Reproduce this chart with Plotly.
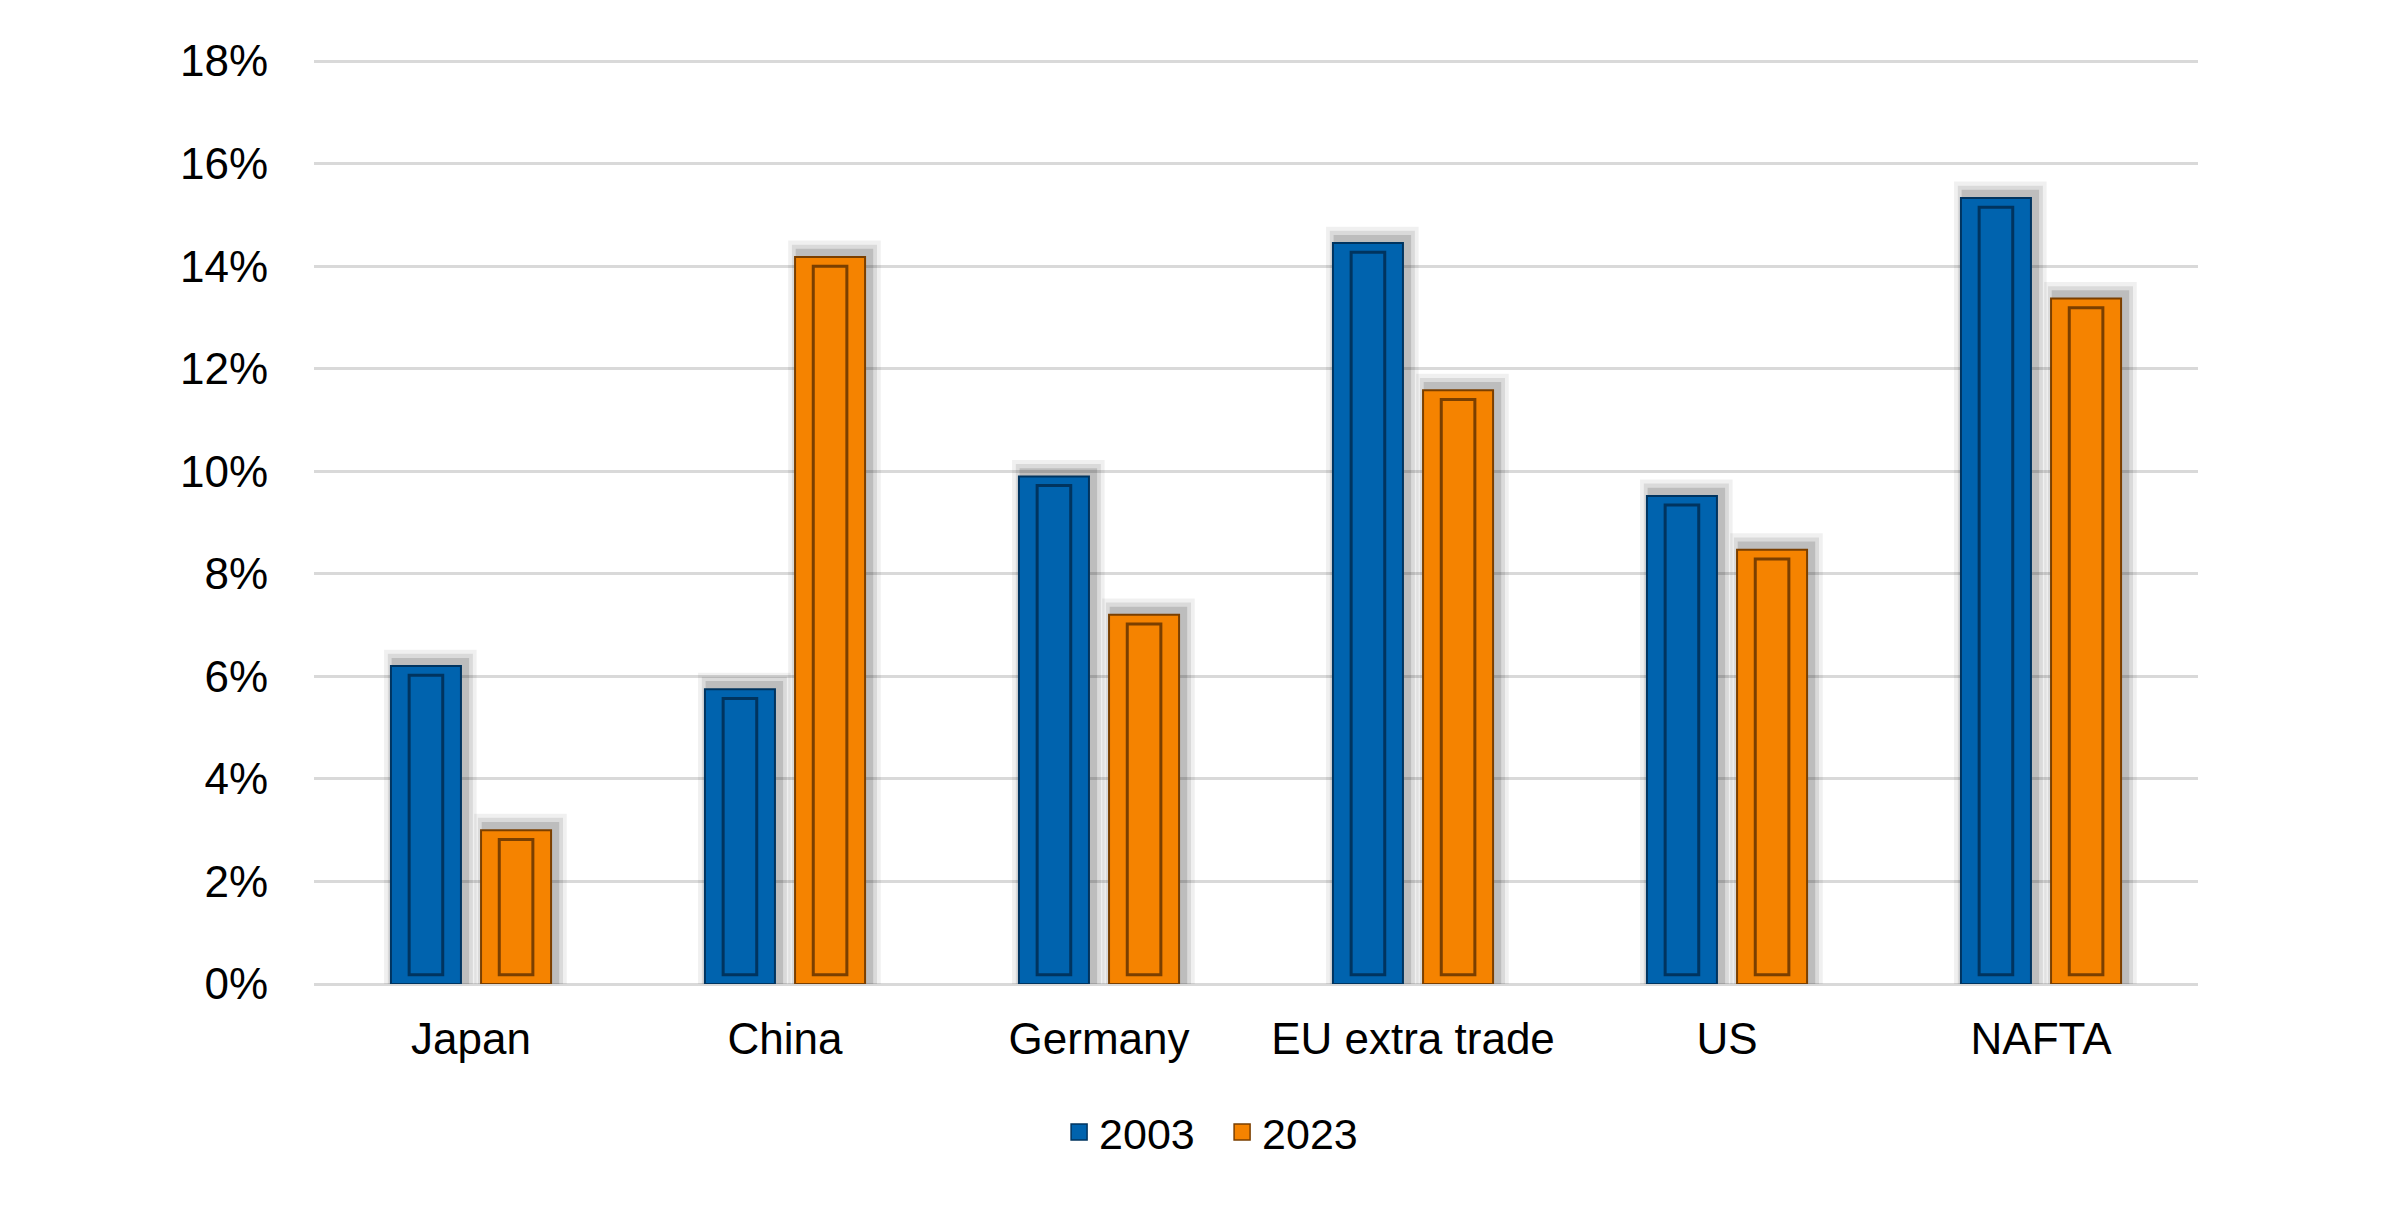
import plotly.graph_objects as go

# data (share in %)
regions = ["Japan", "China", "Germany", "EU extra trade", "US", "NAFTA"]
share_2003 = [6.2, 5.75, 9.9, 14.45, 9.52, 15.33]
share_2023 = [3.0, 14.18, 7.2, 11.58, 8.47, 13.37]
series_names = ["2003", "2023"]
y_ticks = [0, 2, 4, 6, 8, 10, 12, 14, 16, 18]
y_tick_labels = ["0%", "2%", "4%", "6%", "8%", "10%", "12%", "14%", "16%", "18%"]

FONT = "Liberation Sans, Arial, sans-serif"
BLUE = "#0063AE"
ORANGE = "#F58300"
BLUE_DARK = "#00345F"
ORANGE_DARK = "#7A3F00"

BAR_W = 0.223        # bar width in category units
INSET = 0.058        # bevel inset in category units
INSET_Y = 0.18       # bevel inset in % units
OFFSETS = [-0.255, 0.032]


def add_bar(fig, values, name, color, dark, offset):
    # soft shadow behind bar
    for k, alpha in enumerate([0.06, 0.09, 0.13]):
        grow = 0.036 - k * 0.012
        fig.add_trace(go.Bar(
            x=regions, y=[v + 0.32 - k * 0.08 for v in values],
            width=BAR_W + 2 * grow, offset=offset + 0.014 - grow,
            marker=dict(color=f"rgba(0,0,0,{alpha})", line=dict(width=0)),
            showlegend=False, hoverinfo="skip"))
    # outer face
    fig.add_trace(go.Bar(
        x=regions, y=values, name=name, showlegend=False,
        width=BAR_W, offset=offset,
        marker=dict(color=color, line=dict(color=dark, width=2)),
        hovertemplate="%{x}: %{y:.1f}%<extra>" + name + "</extra>"))
    # inner bevel frame
    fig.add_trace(go.Bar(
        x=regions, y=[v - 2 * INSET_Y for v in values],
        base=[INSET_Y] * len(values),
        width=BAR_W - 2 * INSET, offset=offset + INSET,
        marker=dict(color=color, line=dict(color=dark, width=3)),
        showlegend=False, hoverinfo="skip"))
    # legend entry with a square swatch
    fig.add_trace(go.Scatter(
        x=[None], y=[None], mode="markers", name=name,
        marker=dict(symbol="square", size=16, color=color,
                    line=dict(color=dark, width=1.5))))


fig = go.Figure()
add_bar(fig, share_2003, series_names[0], BLUE, BLUE_DARK, OFFSETS[0])
add_bar(fig, share_2023, series_names[1], ORANGE, ORANGE_DARK, OFFSETS[1])

fig.update_layout(
    width=2400, height=1214,
    barmode="overlay",
    plot_bgcolor="white", paper_bgcolor="white",
    margin=dict(l=306, r=210, t=50, b=238),
    font=dict(family=FONT, size=43, color="black"),
    showlegend=True,
    legend=dict(orientation="h", x=0.482, xanchor="center",
                y=-0.16, yanchor="middle",
                font=dict(size=43), itemsizing="trace",
                entrywidth=118, itemwidth=30,
                traceorder="normal"),
    xaxis=dict(showline=False, showgrid=False, zeroline=False,
               ticks="outside", ticklen=16, tickcolor="rgba(0,0,0,0)",
               tickfont=dict(size=44)),
    yaxis=dict(range=[0, 18.06], tickvals=y_ticks, ticktext=y_tick_labels,
               showgrid=True, gridcolor="#D9D9D9", gridwidth=3,
               zeroline=True, zerolinecolor="#D9D9D9", zerolinewidth=3,
               showline=False,
               ticks="outside", ticklen=36, tickcolor="rgba(0,0,0,0)",
               tickfont=dict(size=44)),
)

fig.write_html("out.html")
